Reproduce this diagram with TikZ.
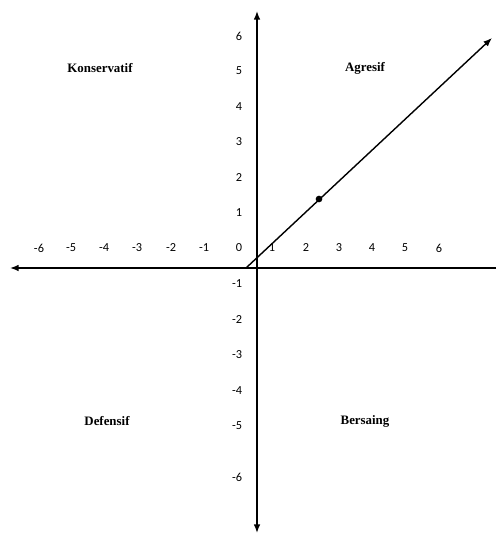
\documentclass[tikz,border=0pt]{standalone}
\usepackage{fontspec}
\setmainfont{Liberation Serif}
\newfontfamily\tickfont{Carlito}
\usetikzlibrary{positioning,arrows.meta}

\begin{document}
\begin{tikzpicture}[
  x=0.03cm,y=-0.03cm,
  tick/.style={
    font=\tickfont\fontsize{10.5}{12}\selectfont,
    inner sep=0pt
  },
  quadrant/.style={
    font=\fontsize{11}{13}\selectfont\bfseries,
    inner sep=0pt
  },
  axis/.style={draw=black,line width=1.2pt},
  tip/.style={-{Latex[length=2.6mm,width=2mm]}}
]
  \useasboundingbox (0,0) rectangle (496,534);

  \coordinate (xl) at (10,268);
  \coordinate (xr) at (496,268);
  \coordinate (yt) at (257,11);
  \coordinate (yb) at (257,533);
  \coordinate (ds) at (246,268);
  \coordinate (de) at (492,38);

  \draw[axis] (xr) -- (257,268);
  \draw[axis,tip] (257,268) -- (xl);
  \draw[axis,tip] (257,268) -- (yt);
  \draw[axis,tip] (257,268) -- (yb);
  \draw[axis,tip] (ds) -- (de);

  \node[circle,fill=black,inner sep=0pt,minimum size=2mm] (dot) at (319,199) {};

  \node[quadrant] (kons) at (100,68) {Konservatif};
  \node[quadrant] (agr) at (365,68) {Agresif};
  \node[quadrant] (def) at (107,421) {Defensif};
  \node[quadrant] (bers) at (365,421) {Bersaing};

  \node[tick] (x-6) at (39,248) {-6};
  \node[tick] (x-5) at (71,248) {-5};
  \node[tick] (x-4) at (104,248) {-4};
  \node[tick] (x-3) at (137,248) {-3};
  \node[tick] (x-2) at (171,248) {-2};
  \node[tick] (x-1) at (204,248) {-1};
  \node[tick] (x0) at (239,248) {0};
  \node[tick] (x1) at (272,248) {1};
  \node[tick] (x2) at (306,248) {2};
  \node[tick] (x3) at (339,248) {3};
  \node[tick] (x4) at (372,248) {4};
  \node[tick] (x5) at (405,248) {5};
  \node[tick] (x6) at (439,248) {6};

  \node[tick] (y1) at (239,213) {1};
  \node[tick] (y2) at (239,178) {2};
  \node[tick] (y3) at (239,142) {3};
  \node[tick] (y4) at (239,107) {4};
  \node[tick] (y5) at (239,71) {5};
  \node[tick] (y6) at (239,36) {6};
  \node[tick] (y-1) at (237,284) {-1};
  \node[tick] (y-2) at (237,320) {-2};
  \node[tick] (y-3) at (237,355) {-3};
  \node[tick] (y-4) at (237,391) {-4};
  \node[tick] (y-5) at (237,426) {-5};
  \node[tick] (y-6) at (237,477) {-6};
\end{tikzpicture}
\end{document}
